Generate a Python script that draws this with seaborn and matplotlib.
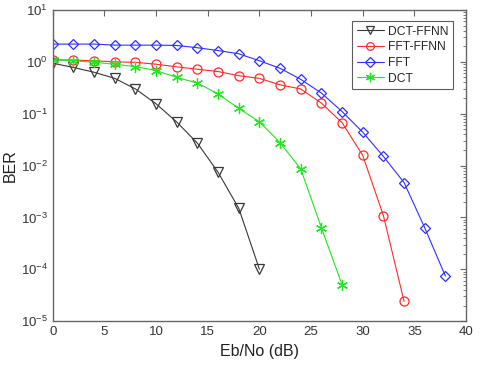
import numpy as np
import pandas as pd
import matplotlib
matplotlib.use("Agg")
import matplotlib.pyplot as plt
import seaborn as sns
from matplotlib.ticker import LogLocator, FixedLocator, NullFormatter

snr_dct_ffnn = [0, 2, 4, 6, 8, 10, 12, 14, 16, 18, 20]
ber_dct_ffnn = [0.94, 0.78, 0.63, 0.48, 0.30, 0.155, 0.069, 0.027, 0.0074, 0.0015, 1.0e-4]

snr_fft_ffnn = [0, 2, 4, 6, 8, 10, 12, 14, 16, 18, 20, 22, 24, 26, 28, 30, 32, 34]
ber_fft_ffnn = [1.1, 1.08, 1.05, 1.0, 0.98, 0.9, 0.8, 0.72, 0.65, 0.54, 0.48, 0.36, 0.30,
                0.16, 0.067, 0.0157, 0.00108, 2.4e-5]

snr_fft = [0, 2, 4, 6, 8, 10, 12, 14, 16, 18, 20, 22, 24, 26, 28, 30, 32, 34, 36, 38]
ber_fft = [2.2, 2.2, 2.2, 2.1, 2.1, 2.1, 2.07, 1.87, 1.65, 1.43, 1.05, 0.75, 0.46, 0.25,
           0.11, 0.044, 0.015, 0.0047, 6.3e-4, 7.4e-5]

snr_dct = [0, 2, 4, 6, 8, 10, 12, 14, 16, 18, 20, 22, 24, 26, 28]
ber_dct = [1.1, 1.05, 0.98, 0.9, 0.81, 0.68, 0.5, 0.39, 0.24, 0.127, 0.07, 0.0275, 0.0086,
           6.3e-4, 5.0e-5]

x_ticks = [0, 5, 10, 15, 20, 25, 30, 35, 40]
y_ticks = [1e-5, 1e-4, 1e-3, 1e-2, 1e-1, 1e0, 1e1]

sns.set_style("white")
plt.rcParams['font.family'] = ['Liberation Sans', 'DejaVu Sans']
plt.rcParams['mathtext.fontset'] = 'custom'
plt.rcParams['mathtext.rm'] = 'Liberation Sans'
plt.rcParams['mathtext.it'] = 'Liberation Sans:italic'
plt.rcParams['mathtext.bf'] = 'Liberation Sans:bold'

fig = plt.figure(figsize=(4.8, 3.7), dpi=100)
ax = fig.add_axes([0.110, 0.132, 0.861, 0.841])

series = [
    ("DCT-FFNN", snr_dct_ffnn, ber_dct_ffnn, "#383838", "v"),
    ("FFT-FFNN", snr_fft_ffnn, ber_fft_ffnn, "#ff2a2a", "o"),
    ("FFT", snr_fft, ber_fft, "#2f2fff", "D"),
    ("DCT", snr_dct, ber_dct, "#22e622", "*"),
]

for name, xs, ys, col, mk in series:
    df = pd.DataFrame({"x": xs, "y": ys})
    ms = 6.5 if mk != "D" else 5.5
    if mk == "*":
        sns.lineplot(data=df, x="x", y="y", ax=ax, color=col, lw=0.8,
                     marker=(6, 2, 0), markersize=8, markeredgecolor=col,
                     markeredgewidth=0.9, label=name)
    else:
        sns.lineplot(data=df, x="x", y="y", ax=ax, color=col, lw=0.8,
                     marker=mk, markersize=ms, markerfacecolor="none",
                     markeredgecolor=col, markeredgewidth=0.9, label=name)

ax.set_yscale("log")
ax.set_xlim(0, 40)
ax.set_ylim(1e-5, 10)
ax.xaxis.set_major_locator(FixedLocator(x_ticks))
ax.yaxis.set_major_locator(FixedLocator(y_ticks))
minor = [m * d for d in y_ticks[:-1] for m in range(2, 10)]
ax.yaxis.set_minor_locator(FixedLocator(minor))
ax.yaxis.set_minor_formatter(NullFormatter())

spine_col = "#666666"
for s in ax.spines.values():
    s.set_color(spine_col)
    s.set_linewidth(1.0)
ax.tick_params(which="both", direction="in", top=True, right=True, color=spine_col,
               labelcolor="#333333", labelsize=9.5)
ax.tick_params(which="major", length=4)
ax.tick_params(which="minor", length=2)

ax.set_xlabel("Eb/No (dB)", fontsize=11.5, color="#222222", labelpad=4)
ax.set_ylabel("BER", fontsize=11.5, color="#222222", labelpad=2)

leg = ax.legend(loc="upper right", bbox_to_anchor=(0.969, 0.965), borderaxespad=0,
                fontsize=8.7, frameon=True, fancybox=False, edgecolor="#333333",
                handlelength=2.3, borderpad=0.4, labelspacing=0.3, handletextpad=0.3,
                markerscale=0.85)
leg.get_frame().set_linewidth(0.8)

fig.savefig("out.png", dpi=100)
